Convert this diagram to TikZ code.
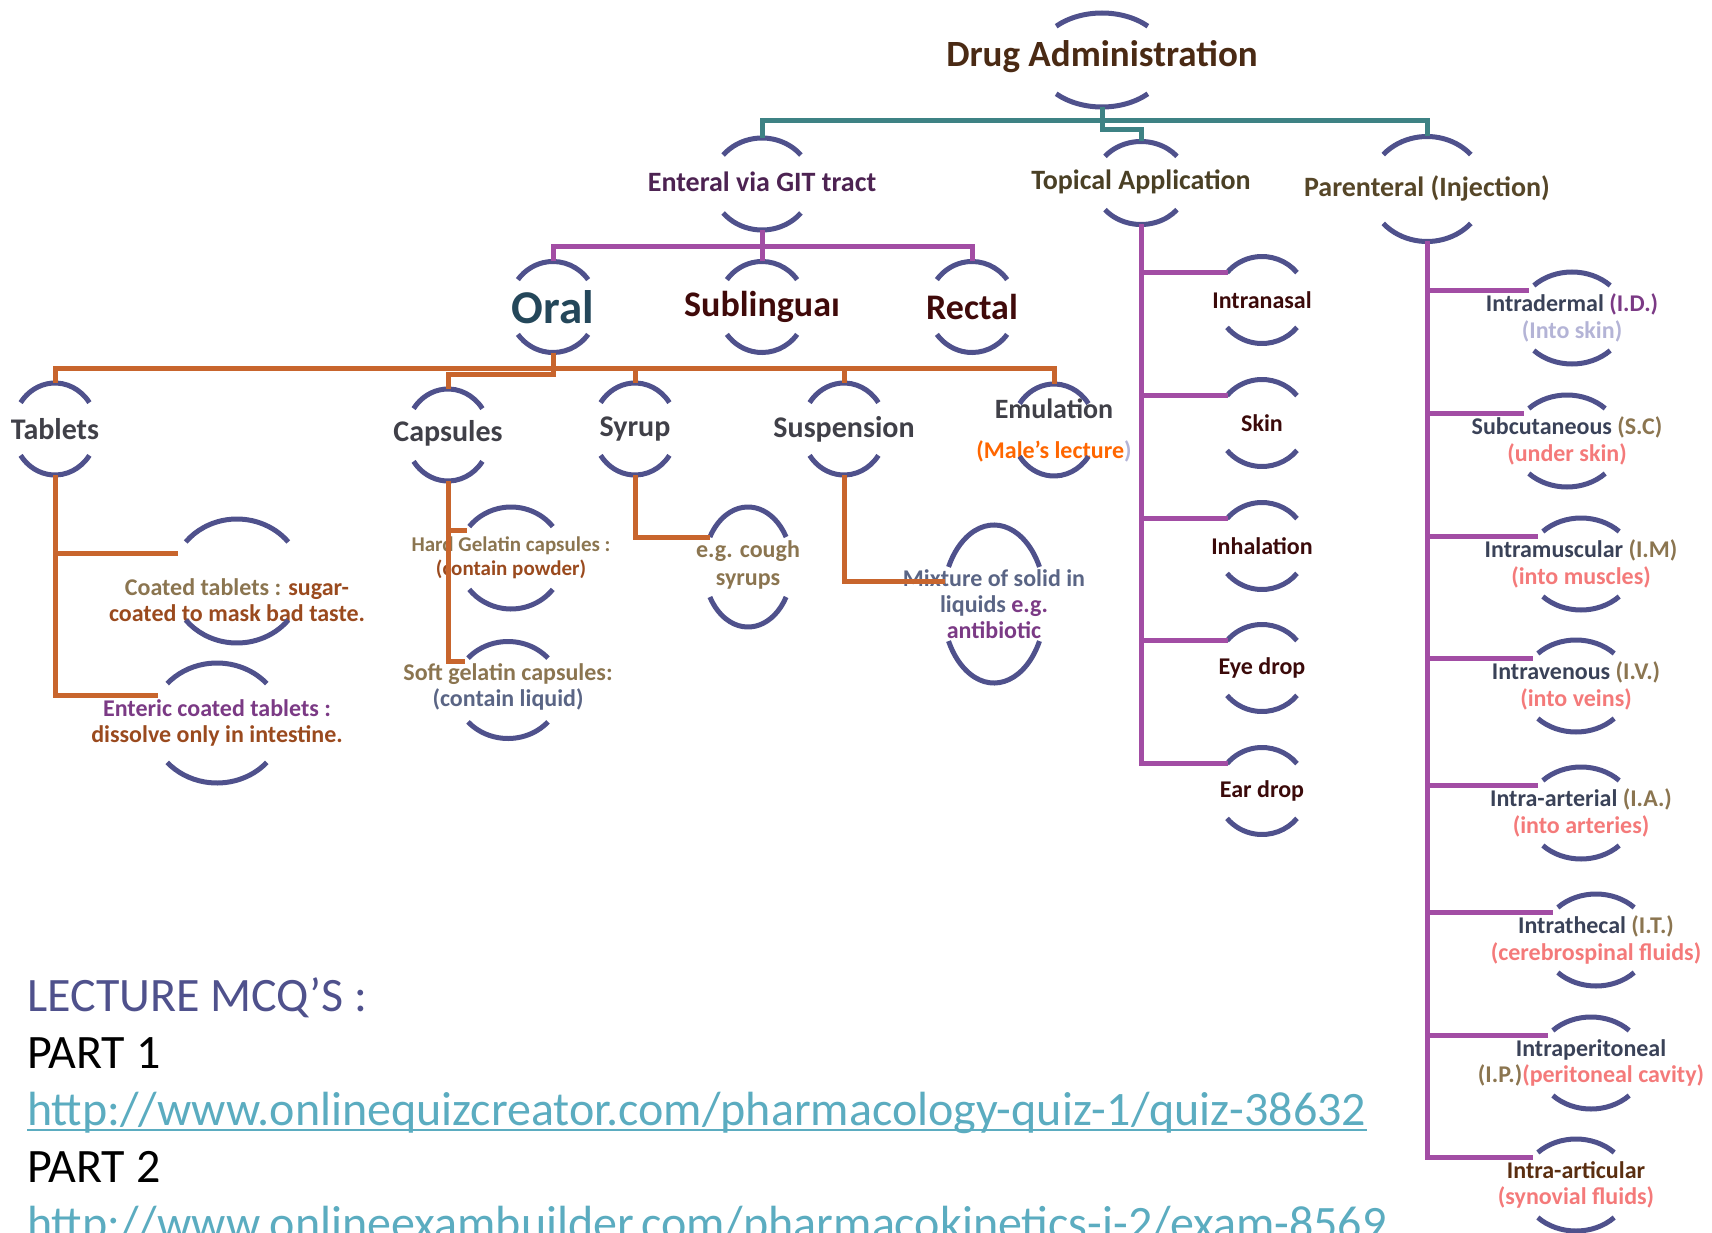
\documentclass[tikz,border=0pt]{standalone}
\usepackage{fontspec}
\setmainfont{Carlito}
\usetikzlibrary{shapes.geometric}
\definecolor{rimc}{HTML}{4F518C}
\definecolor{tealc}{HTML}{3E8284}
\definecolor{purc}{HTML}{A24DA4}
\definecolor{orc}{HTML}{C8652D}
\definecolor{rootc}{HTML}{4A2A14}
\definecolor{entcol}{HTML}{4D2352}
\definecolor{olivec}{HTML}{4A4025}
\definecolor{oralc}{HTML}{24475A}
\definecolor{maroonc}{HTML}{400A0A}
\definecolor{grayc}{HTML}{404048}
\definecolor{khakic}{HTML}{8B7550}
\definecolor{brownc}{HTML}{9A4A1E}
\definecolor{plumc}{HTML}{7B3A85}
\definecolor{slatec}{HTML}{5A6585}
\definecolor{slated}{HTML}{3A4258}
\definecolor{lavc}{HTML}{B4B4D6}
\definecolor{salmonc}{HTML}{F47A7A}
\definecolor{orngc}{HTML}{FF6600}
\definecolor{linkc}{HTML}{5BACC0}
\definecolor{darkc}{HTML}{3B0A0A}
\definecolor{artc}{HTML}{5A2E10}
\tikzset{ring/.style 2 args={ellipse,inner sep=0pt,outer sep=0pt,minimum width=2*#1,minimum height=2*#2},
 rimline/.style={draw=rimc,line width=5},
 tl/.style={draw=tealc,line width=5},
 pl/.style={draw=purc,line width=5},
 ol/.style={draw=orc,line width=5},
 uline/.style={draw=linkc,line width=2.5}}
\tikzset{lead/.style={font=\fontsize{37}{42}\selectfont\bfseries,text=rootc},
 kind/.style={font=\fontsize{28}{32}\selectfont\bfseries},
 route/.style={font=\fontsize{36}{40}\selectfont\bfseries,text=maroonc},
 form/.style={font=\fontsize{30}{34}\selectfont\bfseries,text=grayc},
 note/.style={font=\fontsize{24}{26}\selectfont\bfseries,align=center},
 site/.style={font=\fontsize{24}{26.5}\selectfont\bfseries,align=center},
 quiz/.style={font=\fontsize{48}{57}\selectfont,anchor=base west,inner sep=0pt}}
% top and bottom arcs of a ring: name, x radius, y radius, half angle
\newcommand\rim[4]{%
 \draw[rimline] (#1.center) ++(90-#4:#2 and #3) arc[start angle=90-#4,end angle=90+#4,x radius=#2,y radius=#3];
 \draw[rimline] (#1.center) ++(-90+#4:#2 and #3) arc[start angle=-90+#4,end angle=-90-#4,x radius=#2,y radius=#3];}

\begin{document}
\begin{tikzpicture}[x=1pt,y=1pt]
\useasboundingbox (0,0) rectangle (1712,-1233);
\clip (0,0) rectangle (1712,-1233);
% main routes
\node[ring={66}{47},label={[lead,yshift=3]center:Drug Administration}] (root) at (1102,-60) {};
\node[ring={50}{46},label={[kind,text=entcol,yshift=2]center:Enteral via GIT tract}] (ent) at (762,-184) {};
\node[ring={47}{41.5},label={[kind,text=olivec,yshift=1]center:Topical Application}] (topi) at (1141,-183) {};
\node[ring={58}{52.5},label={[kind,text=olivec!90!brown,yshift=1]center:Parenteral (Injection)}] (par) at (1427,-189) {};
% enteral
\node[ring={44}{45.5},label={[route,text=oralc,font=\fontsize{47}{50}\selectfont\bfseries]center:Oral}] (oral) at (553,-307) {};
\node[ring={44}{45.5},label={[route]center:Sublinguaı}] (subl) at (762,-307) {};
\node[ring={44}{45.5},label={[route]center:Rectal}] (rect) at (972,-307) {};
\node[ring={42}{46},label={[form]center:Tablets}] (tab) at (55,-429) {};
\node[ring={42}{46},label={[form,yshift=2]center:Capsules}] (caps) at (448,-435) {};
\node[ring={42}{46},label={[form]center:Syrup}] (syr) at (635,-429) {};
\node[ring={42}{46},label={[form]center:Suspension}] (susp) at (844,-429) {};
\node[ring={42}{46},label={[form,align=center,font=\fontsize{24}{40}\selectfont\bfseries]center:{{\fontsize{28}{32}\selectfont Emulation}\\\textcolor{orngc}{(Male’s lecture}\textcolor{lavc}{)}}}] (emu) at (1054,-430) {};
\node[ring={66}{62},label={[note,yshift=-19]center:{\textcolor{khakic}{Coated tablets :} \textcolor{brownc}{sugar-}\\\textcolor{brownc}{coated to mask bad taste.}}}] (coat) at (237,-581) {};
\node[ring={66}{60},label={[note]center:{\textcolor{plumc}{Enteric coated tablets :}\\\textcolor{brownc}{dissolve only in intestine.}}}] (entc) at (217,-723) {};
\node[ring={53}{51},label={[note,font=\fontsize{21}{24}\selectfont\bfseries]center:{\textcolor{khakic}{Hard Gelatin capsules :}\\\textcolor{brownc}{(contain powder)}}}] (hard) at (511,-558) {};
\node[ring={53}{48.5},label={[note,yshift=3]center:{\textcolor{khakic}{Soft gelatin capsules:}\\\textcolor{slatec}{(contain liquid)}}}] (soft) at (508,-690) {};
\node[ring={44}{60},label={[note,text=khakic,yshift=2,font=\fontsize{24}{28}\selectfont\bfseries]center:{e.g. cough\\syrups}}] (cough) at (748,-567) {};
\node[ring={51.5}{79},label={[note]center:{\textcolor{slatec}{Mixture of solid in}\\\textcolor{slatec}{liquids} \textcolor{plumc}{e.g.}\\\textcolor{plumc}{antibiotic}}}] (mix) at (994,-604) {};
% topical
\node[ring={45}{43.5},label={[site,text=darkc]center:Intranasal}] (nasal) at (1262,-300) {};
\node[ring={45}{43.5},label={[site,text=darkc]center:Skin}] (skin) at (1262,-423) {};
\node[ring={45}{43.5},label={[site,text=darkc]center:Inhalation}] (inhal) at (1262,-546) {};
\node[ring={45}{43.5},label={[site,text=darkc]center:Eye drop}] (eye) at (1262,-668) {};
\node[ring={45}{43.5},label={[site,text=darkc]center:Ear drop}] (ear) at (1262,-791) {};
% parenteral
\node[ring={54}{46},label={[site]center:{\textcolor{slated}{Intradermal} \textcolor{plumc}{(I.D.)}\\\textcolor{lavc}{(Into skin)}}}] (idm) at (1572,-318) {};
\node[ring={54}{46},label={[site]center:{\textcolor{slated}{Subcutaneous} \textcolor{khakic}{(S.C)}\\\textcolor{salmonc}{(under skin)}}}] (subc) at (1567,-441) {};
\node[ring={54}{46},label={[site]center:{\textcolor{slated}{Intramuscular} \textcolor{khakic}{(I.M)}\\\textcolor{salmonc}{(into muscles)}}}] (imu) at (1581,-564) {};
\node[ring={54}{46},label={[site]center:{\textcolor{slated}{Intravenous} \textcolor{khakic}{(I.V.)}\\\textcolor{salmonc}{(into veins)}}}] (ive) at (1576,-686) {};
\node[ring={54}{46},label={[site]center:{\textcolor{slated}{Intra-arterial} \textcolor{khakic}{(I.A.)}\\\textcolor{salmonc}{(into arteries)}}}] (iar) at (1581,-813) {};
\node[ring={54}{46},label={[site]center:{\textcolor{slated}{Intrathecal} \textcolor{khakic}{(I.T.)}\\\textcolor{salmonc}{(cerebrospinal fluids)}}}] (ith) at (1596,-940) {};
\node[ring={54}{46},label={[site]center:{\textcolor{slated}{Intraperitoneal}\\\textcolor{khakic}{(I.P.)}\textcolor{salmonc}{(peritoneal cavity)}}}] (ipe) at (1591,-1063) {};
\node[ring={54}{46},label={[site]center:{\textcolor{artc}{Intra-articular}\\\textcolor{salmonc}{(synovial fluids)}}}] (iac) at (1576,-1185) {};
% arcs
\rim{root}{66}{47}{44} \rim{ent}{50}{46}{51} \rim{topi}{47}{41.5}{50} \rim{par}{58}{52.5}{49}
\rim{oral}{44}{45.5}{53} \rim{subl}{44}{45.5}{53} \rim{rect}{44}{45.5}{53}
\rim{tab}{42}{46}{55} \rim{caps}{42}{46}{55} \rim{syr}{42}{46}{55} \rim{susp}{42}{46}{55} \rim{emu}{42}{46}{55}
\rim{coat}{66}{62}{51} \rim{entc}{66}{60}{49} \rim{hard}{53}{51}{52} \rim{soft}{53}{48.5}{49}
\rim{cough}{44}{60}{60} \rim{mix}{51.5}{79}{62}
\rim{nasal}{45}{43.5}{51} \rim{skin}{45}{43.5}{51} \rim{inhal}{45}{43.5}{51} \rim{eye}{45}{43.5}{51} \rim{ear}{45}{43.5}{51}
\rim{idm}{54}{46}{45} \rim{subc}{54}{46}{45} \rim{imu}{54}{46}{45} \rim{ive}{54}{46}{45}
\rim{iar}{54}{46}{45} \rim{ith}{54}{46}{45} \rim{ipe}{54}{46}{45} \rim{iac}{54}{46}{45}
% connectors
\draw[tl] (root.south) -- ++(0,-14) -| (ent.north);
\draw[tl] (root.south) -- ++(0,-14) -| (par.north);
\draw[tl] (root.south) -- ++(0,-23) -| (topi.north);
\draw[pl] (ent.south) -- ++(0,-17) -| (oral.north);
\draw[pl] (ent.south) -- ++(0,-17) -| (subl.north);
\draw[pl] (ent.south) -- ++(0,-17) -| (rect.north);
\draw[ol] (oral.south) -- ++(0,-16) -| (tab.north);
\draw[ol] (oral.south) -- ++(0,-22) -| (caps.north);
\draw[ol] (oral.south) -- ++(0,-16) -| (syr.north);
\draw[ol] (oral.south) -- ++(0,-16) -| (susp.north);
\draw[ol] (oral.south) -- ++(0,-16) -| (emu.north);
\draw[ol] (tab.south) |- (coat.155);
\draw[ol] (tab.south) |- (entc.155);
\draw[ol] (caps.south) |- (hard.148);
\draw[ol] (caps.south) |- (soft.147);
\draw[ol] (syr.south) |- (cough.143);
\draw[ol] (susp.south) |- (mix.155);
\draw[pl] (topi.south) |- (nasal.141);
\draw[pl] (topi.south) |- (skin.141);
\draw[pl] (topi.south) |- (inhal.141);
\draw[pl] (topi.south) |- (eye.141);
\draw[pl] (topi.south) |- (ear.141);
\draw[pl] (par.south) |- (idm.147);
\draw[pl] (par.south) |- (subc.147);
\draw[pl] (par.south) |- (imu.147);
\draw[pl] (par.south) |- (ive.147);
\draw[pl] (par.south) |- (iar.147);
\draw[pl] (par.south) |- (ith.147);
\draw[pl] (par.south) |- (ipe.147);
\draw[pl] (par.south) |- (iac.147);
% quiz links
\node[quiz,text=rimc] (lec) at (27,-1011) {LECTURE MCQ’S :};
\node[quiz] (p1) at (27,-1068) {PART 1};
\node[quiz,text=linkc] (url1) at (27,-1125) {http://www.onlinequizcreator.com/pharmacology-quiz-1/quiz-38632};
\node[quiz] (p2) at (27,-1182) {PART 2};
\node[quiz,text=linkc] (url2) at (27,-1239) {http://www.onlineexambuilder.com/pharmacokinetics-i-2/exam-8569};
\draw[uline] ([yshift=-5]url1.base west) -- ([yshift=-5]url1.base east);
\end{tikzpicture}
\end{document}
